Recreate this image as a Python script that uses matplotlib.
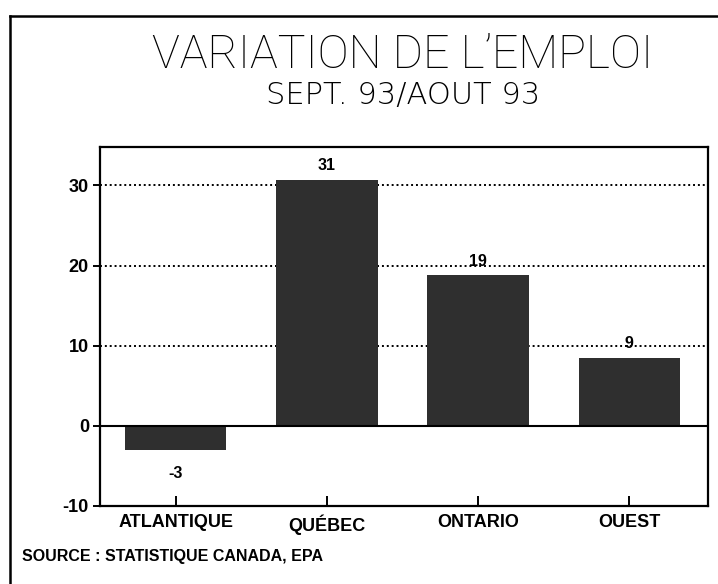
import matplotlib
matplotlib.use("Agg")
import matplotlib.pyplot as plt
from matplotlib.lines import Line2D

# Data
regions = ["ATLANTIQUE", "QUÉBEC", "ONTARIO", "OUEST"]
heights = [-3.0, 30.7, 18.8, 8.5]
labels = ["-3", "31", "19", "9"]
yticks = [-10, 0, 10, 20, 30]

plt.rcParams['font.family'] = ['Liberation Sans', 'DejaVu Sans']

fig = plt.figure(figsize=(7.18, 5.84), dpi=100)
ax = fig.add_axes([0.1393, 0.1336, 0.8467, 0.6147])

x = range(len(regions))
ax.bar(x, heights, width=0.67, color="#2f2f2f", zorder=3)

# grid + zero line
for t in yticks[2:]:
    ax.axhline(t, color="black", linestyle=(0, (1, 1.5)), linewidth=1.4, zorder=1)
ax.axhline(0, color="black", linewidth=1.5, zorder=4)

# value labels
for i, (h, lab) in enumerate(zip(heights, labels)):
    if h >= 0:
        ax.text(i, h + 0.8, lab, ha="center", va="bottom", fontsize=11.5, fontweight="bold")
    else:
        ax.text(i, h - 2.0, lab, ha="center", va="top", fontsize=11.5, fontweight="bold")

ax.set_xlim(-0.5, 3.52)
ax.set_ylim(-10, 34.8)
ax.set_yticks(yticks)
ax.set_yticklabels([str(t) for t in yticks], fontsize=13, fontweight="bold")
ax.set_xticks(list(x))
ax.set_xticklabels(regions, fontsize=13, fontweight="bold")
ax.tick_params(axis="y", direction="out", length=5, width=1.4, pad=3)
ax.tick_params(axis="x", direction="in", length=7, width=1.4, pad=6)
for s in ax.spines.values():
    s.set_linewidth(1.6)

# titles
fig.text(0.56, 0.905, "VARIATION DE L\u2019EMPLOI", ha="center", va="center",
         fontsize=33.5, fontweight="light", family=["Roboto", "DejaVu Sans"])
fig.text(0.561, 0.837, "SEPT. 93/AOUT 93", ha="center", va="center",
         fontsize=22, fontweight="light", family=["DejaVu Sans"])

fig.text(0.031, 0.047, "SOURCE : STATISTIQUE CANADA, EPA", ha="left", va="center",
         fontsize=11.5, fontweight="bold")

# outer frame (top and left edges visible in scan)
fig.add_artist(Line2D([0.0139, 1.0], [0.9726, 0.9726], color="black", linewidth=1.8,
                      transform=fig.transFigure))
fig.add_artist(Line2D([0.0139, 0.0139], [0.0, 0.9726], color="black", linewidth=1.8,
                      transform=fig.transFigure))

plt.savefig("out.png", dpi=100)
